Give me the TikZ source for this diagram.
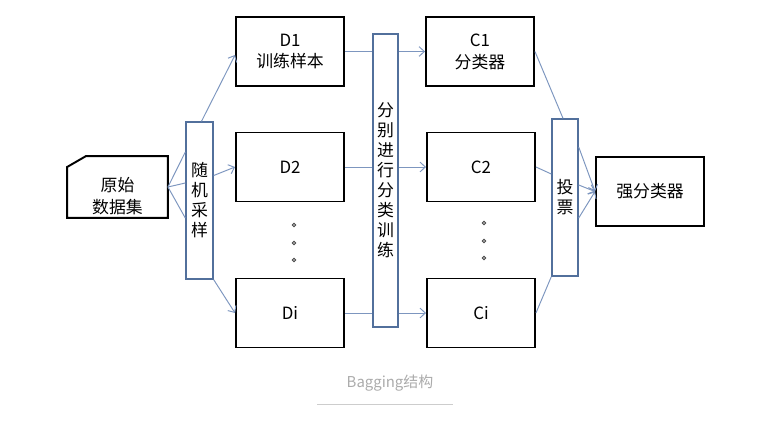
\documentclass[tikz,border=0pt]{standalone}
\usepackage{fontspec}
\setmainfont{Noto Sans CJK SC}
\usepackage{xcolor}
\usetikzlibrary{
    positioning,
    calc,
    arrows.meta
}
\definecolor{AzulBarra}{HTML}{52709C}
\definecolor{AzulSeta}{HTML}{7D96BF}
\definecolor{CinzaLegenda}{HTML}{ABABAB}

\tikzset{
    caixa/.style={
        draw=black,
        line width=1.1pt,
        minimum width=2.16cm,
        minimum height=1.38cm,
        align=center,
        font=\fontsize{9.6}{12.5}\selectfont
    },
    barra/.style={
        draw=AzulBarra,
        line width=0.8pt,
        inner sep=0pt,
        align=center,
        font=\fontsize{9.6}{11.4}\selectfont
    },
    linha/.style={draw=AzulSeta, line width=0.55pt},
    seta/.style={linha, -{Straight Barb[length=3pt,width=5.5pt]}},
    ponto/.style={draw=gray!60!black, fill=gray!70, line width=0.4pt}
}

\begin{document}
\begin{tikzpicture}[x=0.02cm, y=-0.02cm]

    \useasboundingbox (0,0) rectangle (775,423);

    % conjunto de dados original
    \node[
        caixa,
        draw=none,
        inner sep=0pt,
        minimum width=1.98cm,
        minimum height=1.2cm
    ] (dados) at (117.5,187) {\rule{0pt}{1.9em}原始\\数据集};
    \draw[line width=1.1pt]
        (dados.south west) -- ($(dados.north west)+(0,11)$)
        -- ($(dados.north west)+(19,0)$) -- (dados.north east)
        -- (dados.south east) -- cycle;

    % barras verticais
    \node[barra, minimum width=0.54cm, minimum height=3.14cm] (rs) at (199.5,200.5) {随\\机\\采\\样};
    \node[barra, minimum width=0.5cm, minimum height=5.86cm] (tr) at (385.5,180.5) {分\\别\\进\\行\\分\\类\\训\\练};
    \node[barra, minimum width=0.52cm, minimum height=3.14cm] (vt) at (565,197.5) {投\\票};

    % amostras e classificadores
    \node[caixa] (d1) at (290,51.5) {D1\\训练样本};
    \node[caixa] (d2) at (290,167) {D2};
    \node[caixa] (di) at (290,313) {Di};
    \node[caixa] (c1) at (480,51.5) {C1\\分类器};
    \node[caixa] (c2) at (481,167) {C2};
    \node[caixa] (ci) at (481,313) {Ci};
    \node[caixa] (forte) at (650,191.5) {强分类器};

    \foreach \y in {225,243,260} {
        \draw[ponto] (294,\y) circle (1.8);
        \draw[ponto] (484,\y-2) circle (1.8);
    }

    % ligacoes
    \foreach \dy in {-48.5,-17.5,17.5}
        \draw[linha] (dados.east) -- ($(rs.west)+(0,\dy)$);
    \draw[seta] ($(rs.north)+(2,0)$) -- ($(d1.west)+(0,3.5)$);
    \draw[seta] ($(rs.east)+(0,-25)$) -- (d2.west);
    \draw[seta] (rs.south east) -- (di.west);

    \foreach \d/\c in {d1/c1,d2/c2,di/ci} {
        \draw[linha] (\d.east) -- (\d.east -| tr.west);
        \draw[seta] (\c.west -| tr.east) -- (\c.west);
    }

    \draw[linha] (c1.east) -- ($(vt.north)+(-2,0)$);
    \draw[linha] (c2.east) -- ($(vt.west)+(0,-23.5)$);
    \draw[linha] (ci.east) -- (vt.south west);
    \foreach \dy in {-50.5,-12.5,20.5}
        \draw[seta] ($(vt.east)+(0,\dy)$) -- (forte.west);

    % legenda
    \node[font=\fontsize{8.5}{10}\selectfont, text=CinzaLegenda] (legenda) at (390,383) {Bagging结构};
    \draw[CinzaLegenda!60, line width=0.4pt] (317,404) -- (453,404);

\end{tikzpicture}
\end{document}
